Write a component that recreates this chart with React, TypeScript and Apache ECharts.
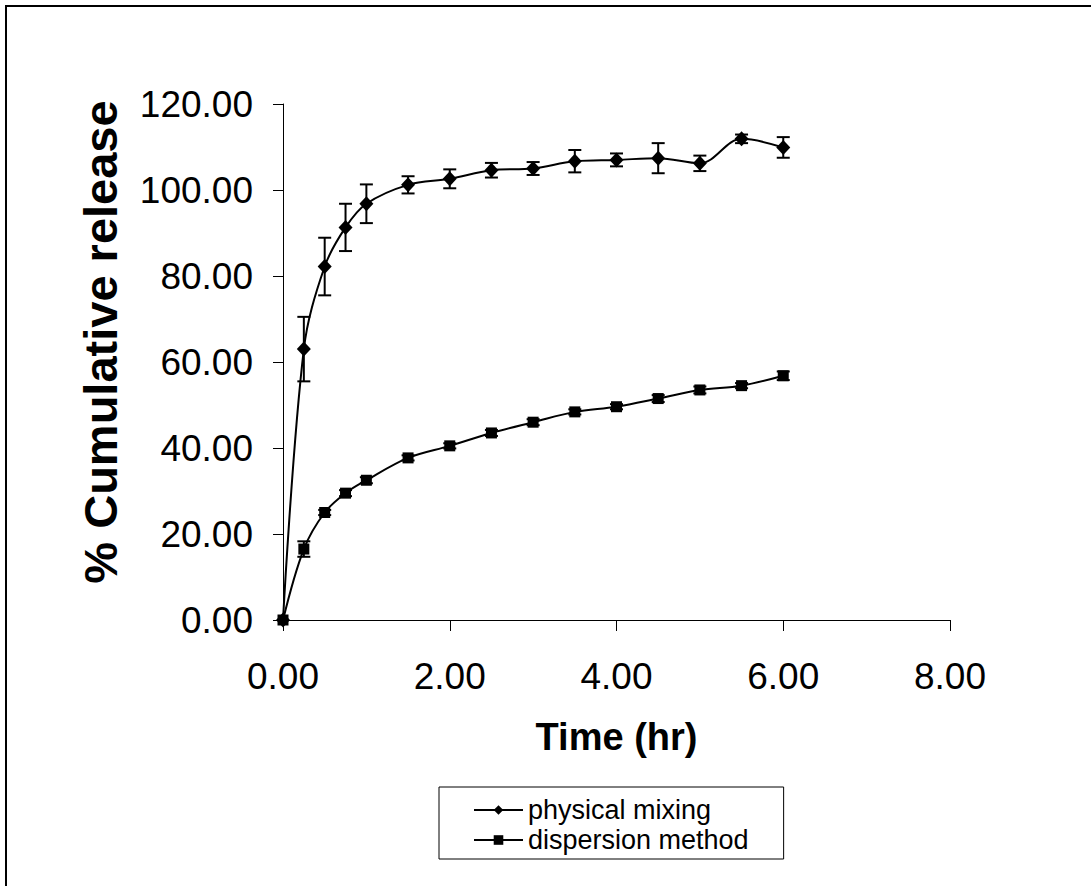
import React, { useEffect, useRef } from "react";
import * as echarts from "echarts";

const timeHr = [0, 0.25, 0.5, 0.75, 1, 1.5, 2, 2.5, 3, 3.5, 4, 4.5, 5, 5.5, 6];
const physicalMixing = [0, 63.0, 82.2, 91.3, 96.8, 101.2, 102.6, 104.6, 105.0, 106.7, 107.0, 107.4, 106.2, 111.9, 109.9];
const physicalMixingErr = [0, 7.5, 6.7, 5.5, 4.5, 2.0, 2.2, 1.7, 1.5, 2.6, 1.5, 3.5, 1.8, 1.0, 2.4];
const dispersionMethod = [0, 16.5, 25.0, 29.5, 32.5, 37.7, 40.5, 43.5, 46.0, 48.4, 49.6, 51.5, 53.5, 54.5, 56.8];
const dispersionMethodErr = [0, 1.8, 0.6, 0.7, 0.7, 0.6, 0.6, 0.7, 0.7, 0.6, 0.6, 0.8, 0.8, 0.6, 1.0];
const seriesNames = ["physical mixing", "dispersion method"];
const xAxisTitle = "Time (hr)";
const yAxisTitle = "% Cumulative release";

const FONT = "'Liberation Sans', Arial, sans-serif";

function errData(vals: number[], errs: number[]) {
  const out: number[][] = [];
  for (let i = 0; i < timeHr.length; i++) {
    if (errs[i] > 0) out.push([timeHr[i], vals[i] - errs[i], vals[i] + errs[i]]);
  }
  return out;
}

function errorBarSeries(vals: number[], errs: number[]) {
  return {
    type: "custom",
    silent: true,
    z: 3,
    data: errData(vals, errs),
    encode: { x: 0, y: [1, 2] },
    renderItem: (params: any, api: any) => {
      const x = api.value(0);
      const top = api.coord([x, api.value(2)]);
      const bot = api.coord([x, api.value(1)]);
      const hw = 6.5;
      const st = { stroke: "#000", lineWidth: 2 };
      return {
        type: "group",
        children: [
          { type: "line", shape: { x1: top[0], y1: top[1], x2: bot[0], y2: bot[1] }, style: st },
          { type: "line", shape: { x1: top[0] - hw, y1: top[1], x2: top[0] + hw, y2: top[1] }, style: st },
          { type: "line", shape: { x1: bot[0] - hw, y1: bot[1], x2: bot[0] + hw, y2: bot[1] }, style: st },
        ],
      };
    },
  };
}

export default function App() {
  const ref = useRef<HTMLDivElement>(null);
  useEffect(() => {
    if (!ref.current) return;
    const chart = echarts.init(ref.current, undefined, { renderer: "svg" });
    chart.setOption({
      animation: false,
      backgroundColor: "#fff",
      textStyle: { fontFamily: FONT, color: "#000" },
      graphic: [
        {
          type: "rect",
          shape: { x: 6, y: 6, width: 1110, height: 910 },
          style: { fill: "none", stroke: "#000", lineWidth: 2 },
          silent: true,
        },
      ],
      grid: { left: 283, top: 104, width: 667, height: 516, containLabel: false },
      legend: {
        data: seriesNames,
        orient: "vertical",
        left: 439,
        top: 787,
        itemWidth: 49,
        itemHeight: 12,
        itemGap: 0,
        padding: [8, 35, 4, 34],
        borderColor: "#000",
        borderWidth: 1,
        textStyle: { fontFamily: FONT, fontSize: 27, color: "#000", lineHeight: 30 },
      },
      xAxis: {
        type: "value",
        min: 0,
        max: 8,
        interval: 2,
        name: xAxisTitle,
        nameLocation: "middle",
        nameGap: 98,
        nameTextStyle: { fontFamily: FONT, fontSize: 38, fontWeight: "bold", color: "#000" },
        axisLine: { show: true, lineStyle: { color: "#000", width: 1 } },
        axisTick: { show: true, length: 11, lineStyle: { color: "#000", width: 1 } },
        axisLabel: { fontFamily: FONT, fontSize: 37, color: "#000", margin: 38, formatter: (v: number) => v.toFixed(2) },
        splitLine: { show: false },
      },
      yAxis: {
        type: "value",
        min: 0,
        max: 120,
        interval: 20,
        name: yAxisTitle,
        nameLocation: "middle",
        nameGap: 159,
        nameTextStyle: { fontFamily: FONT, fontSize: 47, fontWeight: "bold", color: "#000", padding: [0, 0, 0, 40] },
        axisLine: { show: true, lineStyle: { color: "#000", width: 1 } },
        axisTick: { show: true, length: 10, lineStyle: { color: "#000", width: 1 } },
        axisLabel: { fontFamily: FONT, fontSize: 37, color: "#000", margin: 30, formatter: (v: number) => v.toFixed(2) },
        splitLine: { show: false },
      },
      series: [
        errorBarSeries(physicalMixing, physicalMixingErr),
        errorBarSeries(dispersionMethod, dispersionMethodErr),
        {
          name: seriesNames[0],
          type: "line",
          z: 4,
          smooth: 0.35,
          data: timeHr.map((t, i) => [t, physicalMixing[i]]),
          symbol: "diamond",
          symbolSize: [14, 15],
          lineStyle: { color: "#000", width: 2 },
          itemStyle: { color: "#000" },
        },
        {
          name: seriesNames[1],
          type: "line",
          z: 4,
          smooth: 0.35,
          data: timeHr.map((t, i) => [t, dispersionMethod[i]]),
          symbol: "rect",
          symbolSize: 11,
          lineStyle: { color: "#000", width: 2 },
          itemStyle: { color: "#000" },
        },
      ],
    });
    return () => chart.dispose();
  }, []);
  return (
    <div
      ref={ref}
      style={{ position: "fixed", left: 0, top: 0, width: 1091, height: 886, background: "#fff" }}
    />
  );
}
